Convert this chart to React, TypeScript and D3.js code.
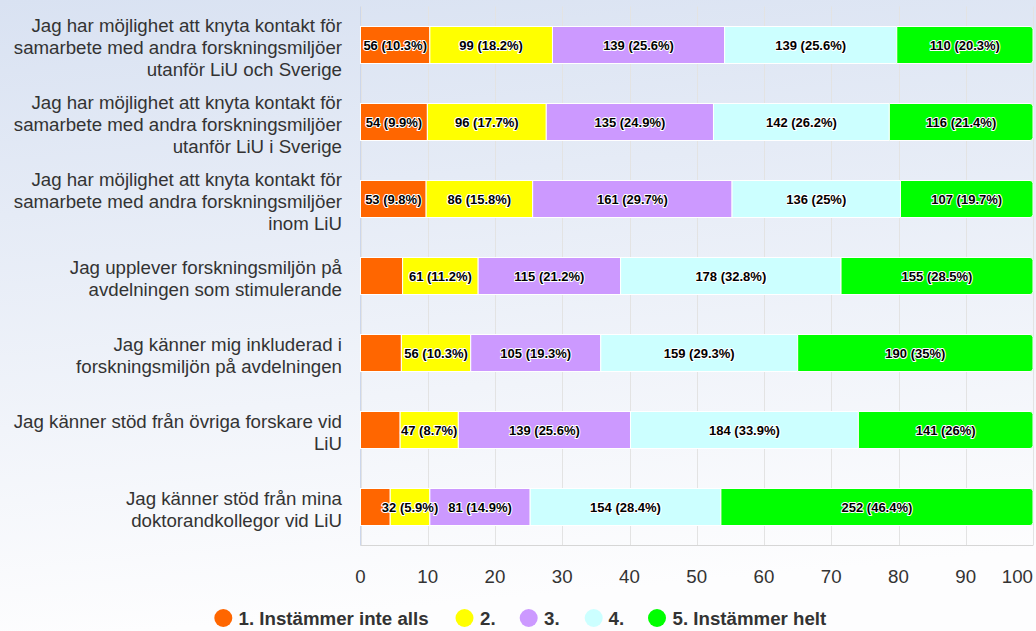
import React from "react";
import * as d3 from "d3";

const categories = [
  "Jag har möjlighet att knyta kontakt för samarbete med andra forskningsmiljöer utanför LiU och Sverige",
  "Jag har möjlighet att knyta kontakt för samarbete med andra forskningsmiljöer utanför LiU i Sverige",
  "Jag har möjlighet att knyta kontakt för samarbete med andra forskningsmiljöer inom LiU",
  "Jag upplever forskningsmiljön på avdelningen som stimulerande",
  "Jag känner mig inkluderad i forskningsmiljön på avdelningen",
  "Jag känner stöd från övriga forskare vid LiU",
  "Jag känner stöd från mina doktorandkollegor vid LiU",
];

const seriesNames = ["1. Instämmer inte alls", "2.", "3.", "4.", "5. Instämmer helt"];
const seriesColors = ["#ff6600", "#ffff00", "#cc99ff", "#ccffff", "#00ff00"];

const s1 = [56, 54, 53, 34, 33, 32, 24];
const s2 = [99, 96, 86, 61, 56, 47, 32];
const s3 = [139, 135, 161, 115, 105, 139, 81];
const s4 = [139, 142, 136, 178, 159, 184, 154];
const s5 = [110, 116, 107, 155, 190, 141, 252];
const seriesValues = [s1, s2, s3, s4, s5];

const xTicks = [0, 10, 20, 30, 40, 50, 60, 70, 80, 90, 100];

const FONT = "'Liberation Sans', Arial, Helvetica, sans-serif";
const FS = 18.7;
const LFS = 13;
const W = 1036;
const H = 631;
const plot = { left: 360.5, right: 1033, top: 6.5, bottom: 545.5 };

let ctx: CanvasRenderingContext2D | null = null;
function measure(text: string, font: string): number {
  if (!ctx) ctx = document.createElement("canvas").getContext("2d");
  if (!ctx) return text.length * 8;
  ctx.font = font;
  return ctx.measureText(text).width;
}

function wrap(text: string, maxW: number): string[] {
  const words = text.split(" ");
  const lines: string[] = [];
  let cur = "";
  for (const w of words) {
    const t = cur ? cur + " " + w : w;
    if (cur && measure(t, `${FS}px ${FONT}`) > maxW) {
      lines.push(cur);
      cur = w;
    } else cur = t;
  }
  if (cur) lines.push(cur);
  return lines;
}

function fmtPct(v: number): string {
  return String(Number(v.toFixed(1)));
}

function rightRounded(x: number, y: number, w: number, h: number, r: number): string {
  r = Math.min(r, w, h / 2);
  return `M${x},${y}H${x + w - r}Q${x + w},${y} ${x + w},${y + r}V${y + h - r}Q${x + w},${y + h} ${x + w - r},${y + h}H${x}Z`;
}

export default function App() {
  const x = d3.scaleLinear().domain([0, 100]).range([plot.left, plot.right]);
  const y = d3
    .scaleBand<number>()
    .domain(d3.range(categories.length))
    .range([plot.top, plot.bottom]);
  const barH = 37;

  const rows = categories.map((cat, i) => {
    const counts = seriesValues.map((s) => s[i]);
    const total = d3.sum(counts);
    let acc = 0;
    const segs = counts.map((c, k) => {
      const pct = (c / total) * 100;
      const x0 = acc;
      acc += pct;
      const label = `${c} (${fmtPct(pct)}%)`;
      const cx = (x(x0) + x(acc)) / 2;
      const lw = measure(label, `bold ${LFS}px ${FONT}`) + 6;
      return { k, c, pct, x0, x1: acc, label, cx, lw, show: true };
    });
    // hide overlapping labels, right to left
    let lastLeft = Infinity;
    for (let k = segs.length - 1; k >= 0; k--) {
      const s = segs[k];
      const right = s.cx + s.lw / 2;
      if (right > lastLeft) s.show = false;
      else lastLeft = s.cx - s.lw / 2;
    }
    return { cat, segs, cy: (y(i) as number) + y.bandwidth() / 2 };
  });

  const legendItems = [
    { cx: 223.3, tx: 238.5 },
    { cx: 464.5, tx: 480 },
    { cx: 528.7, tx: 544 },
    { cx: 593.7, tx: 608.5 },
    { cx: 657, tx: 672.5 },
  ];

  const capHalf = (0.716 * FS) / 2;

  return (
    <svg
      width={W}
      height={H}
      style={{ position: "absolute", left: 0, top: 0, fontFamily: FONT }}
    >
      <defs>
        <linearGradient id="bg" x1="0" y1="0" x2="0.15" y2="1">
          <stop offset="0" stopColor="#d9e2f2" />
          <stop offset="1" stopColor="#fdfdfe" />
        </linearGradient>
      </defs>
      <rect x={0} y={0} width={W} height={H} fill="url(#bg)" />

      {/* grid */}
      {xTicks.map((t) => (
        <line
          key={t}
          x1={Math.round(x(t)) + 0.5}
          x2={Math.round(x(t)) + 0.5}
          y1={plot.top}
          y2={plot.bottom}
          stroke="#e3e3e3"
          strokeWidth={1}
        />
      ))}
      <line x1={plot.left} x2={plot.left} y1={plot.top} y2={plot.bottom} stroke="#ccd6eb" />
      <line x1={plot.left} x2={plot.right} y1={plot.bottom} y2={plot.bottom} stroke="#d6d6d6" />

      {/* bars */}
      {rows.map((r, i) => (
        <g key={i}>
          {r.segs.map((s) => {
            const x0 = x(s.x0);
            const w = x(s.x1) - x(s.x0);
            const yy = r.cy - barH / 2;
            return s.k === r.segs.length - 1 ? (
              <path
                key={s.k}
                d={rightRounded(x0, yy, w, barH, 3)}
                fill={seriesColors[s.k]}
                stroke="#ffffff"
                strokeWidth={1}
              />
            ) : (
              <rect
                key={s.k}
                x={x0}
                y={yy}
                width={w}
                height={barH}
                fill={seriesColors[s.k]}
                stroke="#ffffff"
                strokeWidth={1}
              />
            );
          })}
          {r.segs
            .filter((s) => s.show)
            .map((s) => (
              <text
                key={"l" + s.k}
                x={s.cx}
                y={r.cy + (0.716 * LFS) / 2}
                textAnchor="middle"
                fontSize={LFS}
                fontWeight="bold"
                fill="#000"
                stroke="#fff"
                strokeWidth={2}
                strokeLinejoin="round"
                style={{ paintOrder: "stroke" }}
              >
                {s.label}
              </text>
            ))}
        </g>
      ))}

      {/* category labels */}
      {rows.map((r, i) => {
        const lines = wrap(r.cat, 336);
        const first = r.cy - ((lines.length - 1) * 22) / 2 + 2;
        return (
          <text key={"c" + i} textAnchor="end" fontSize={FS} fill="#333333">
            {lines.map((ln, j) => (
              <tspan key={j} x={342} y={first + j * 22 + capHalf}>
                {ln}
              </tspan>
            ))}
          </text>
        );
      })}

      {/* x tick labels */}
      {xTicks.map((t) => {
        const tw = measure(String(t), `${FS}px ${FONT}`);
        let cx = x(t);
        if (cx + tw / 2 > 1033) cx = 1033 - tw / 2;
        return (
          <text key={"t" + t} x={cx} y={576 + capHalf} textAnchor="middle" fontSize={FS} fill="#333333">
            {t}
          </text>
        );
      })}

      {/* legend */}
      {seriesNames.map((n, k) => (
        <g key={"lg" + k}>
          <circle cx={legendItems[k].cx} cy={618} r={9} fill={seriesColors[k]} />
          <text x={legendItems[k].tx} y={618 + capHalf} fontSize={FS} fontWeight="bold" fill="#333333">
            {n}
          </text>
        </g>
      ))}
    </svg>
  );
}
